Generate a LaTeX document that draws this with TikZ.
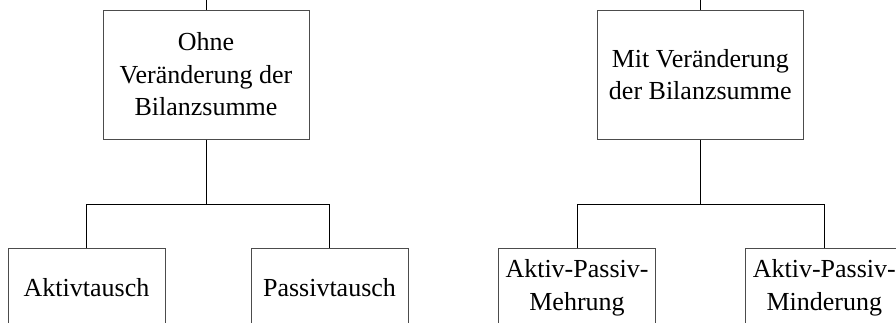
\documentclass[tikz,border=0pt]{standalone}
\usepackage{fontspec}
\setmainfont{Liberation Serif}
\usetikzlibrary{positioning}

\begin{document}
\begin{tikzpicture}[
x=1pt, y=1pt,
topbox/.style={draw=black!70,
rectangle,
line width=1pt,
minimum width=206pt,
minimum height=129pt,
align=center,
font=\fontsize{26}{32.5}\selectfont},
subbox/.style={draw=black!70,
rectangle,
line width=1pt,
minimum width=157pt,
minimum height=80pt,
align=center,
font=\fontsize{26}{32.5}\selectfont},
link/.style={line width=1pt}
]
\useasboundingbox (0,0) rectangle (896,-322);
\clip (0,0) rectangle (896,-322);

\node[topbox] (ohne) at (206,-74.5) {Ohne\\Veränderung der\\Bilanzsumme};
\node[topbox] (mit) at (700.3,-74.5) {Mit Veränderung\\der Bilanzsumme};

\node[subbox, below=108pt of ohne, xshift=-119.5pt] (aktiv) {Aktivtausch};
\node[subbox, below=108pt of ohne, xshift=123.5pt] (passiv) {Passivtausch};
\node[subbox, below=108pt of mit, xshift=-123.3pt] (mehrung) {Aktiv-Passiv-\\Mehrung};
\node[subbox, below=108pt of mit, xshift=124pt] (minderung) {Aktiv-Passiv-\\Minderung};

\coordinate[above=10pt of ohne.north] (ohnetop);
\coordinate[above=10pt of mit.north] (mittop);
\coordinate[below=64.7pt of ohne.south] (ohnejoin);
\coordinate[below=64.7pt of mit.south] (mitjoin);

\draw[link] (ohnetop) -- (ohne);
\draw[link] (mittop) -- (mit);
\draw[link] (ohne) -- (ohnejoin);
\draw[link] (mit) -- (mitjoin);
\draw[link] (aktiv.north) |- (ohnejoin) -| (passiv.north);
\draw[link] (mehrung.north) |- (mitjoin) -| (minderung.north);

\end{tikzpicture}
\end{document}
